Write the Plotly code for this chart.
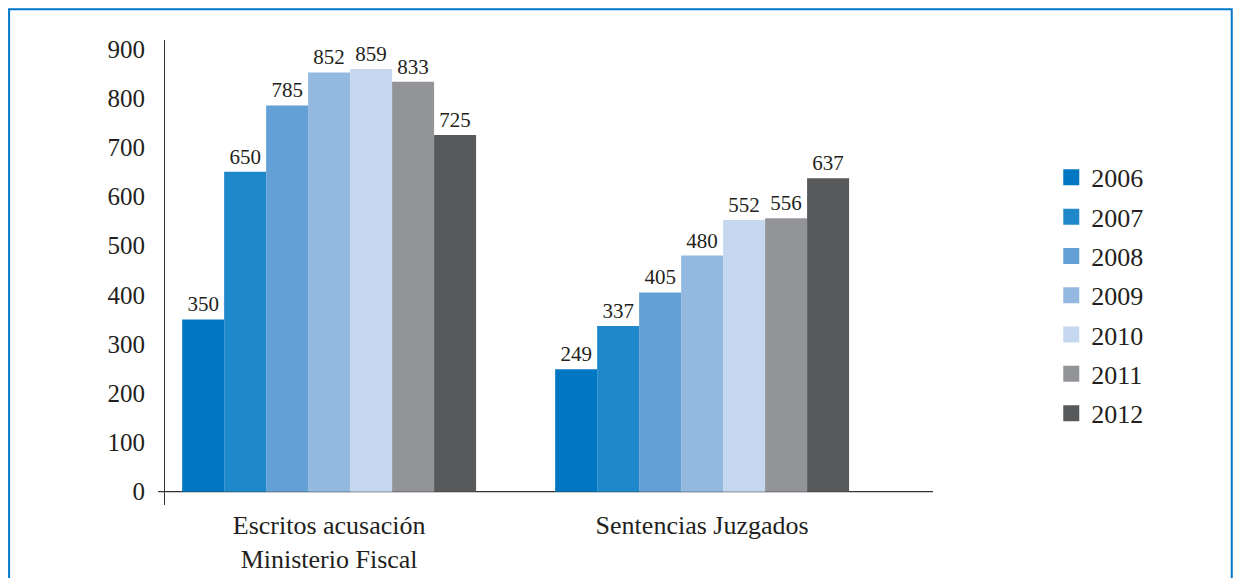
import plotly.graph_objects as go

categories = ["Escritos acusación<br>Ministerio Fiscal", "Sentencias Juzgados"]
years = ["2006", "2007", "2008", "2009", "2010", "2011", "2012"]
escritos = [350, 650, 785, 852, 859, 833, 725]
sentencias = [249, 337, 405, 480, 552, 556, 637]
colors = ["#0077c0", "#1f88cb", "#62a0d6", "#94b9e0", "#c5d8ef", "#939498", "#58595b"]

FONT = "Liberation Serif"
INK = "#231f20"

fig = go.Figure()

for i, year in enumerate(years):
    vals = [escritos[i], sentencias[i]]
    fig.add_trace(go.Bar(
        x=categories,
        y=vals,
        name=year,
        marker=dict(color=colors[i], line=dict(width=0)),
        text=[str(v) for v in vals],
        textposition="outside",
        textfont=dict(family=FONT, size=21, color=INK),
        cliponaxis=False,
        showlegend=False,
    ))
    # legend entry with bigger square
    fig.add_trace(go.Scatter(
        x=[None], y=[None],
        mode="markers",
        name=year,
        legendgroup=year,
        marker=dict(symbol="square", size=18, color=colors[i]),
    ))

fig.update_layout(
    width=1241,
    height=578,
    margin=dict(l=157, r=316, t=32, b=74),
    paper_bgcolor="white",
    plot_bgcolor="white",
    barmode="group",
    bargap=0.212,
    bargroupgap=0,
    font=dict(family=FONT, color=INK),
    legend=dict(
        x=1.154, y=0.755, xanchor="left", yanchor="top",
        font=dict(family=FONT, size=26, color=INK),
        tracegroupgap=2.5,
        itemwidth=30,
    ),
    xaxis=dict(
        range=[-0.44, 1.619],
        showline=False,
        showgrid=False,
        zeroline=False,
        ticks="",
        ticklabelstandoff=2,
        tickfont=dict(family=FONT, size=26, color=INK),
    ),
    yaxis=dict(
        range=[-27, 918],
        tickvals=list(range(0, 1000, 100)),
        showline=True,
        linecolor="#333333",
        linewidth=1.2,
        showgrid=False,
        zeroline=False,
        ticks="",
        ticklabelstandoff=14,
        tickfont=dict(family=FONT, size=25, color=INK),
    ),
)

# x axis baseline at zero, with small stub left of the y axis
fig.add_shape(type="line", xref="paper", yref="y", x0=-0.009, x1=1, y0=0, y1=0,
              line=dict(color="#333333", width=1.2), layer="below")

# outer frame
fig.add_shape(type="rect", xref="paper", yref="paper",
              x0=-0.203, x1=1.389, y0=-0.3, y1=1.066,
              line=dict(color="#0077c8", width=2), fillcolor="rgba(0,0,0,0)")

fig.write_html("out.html")
